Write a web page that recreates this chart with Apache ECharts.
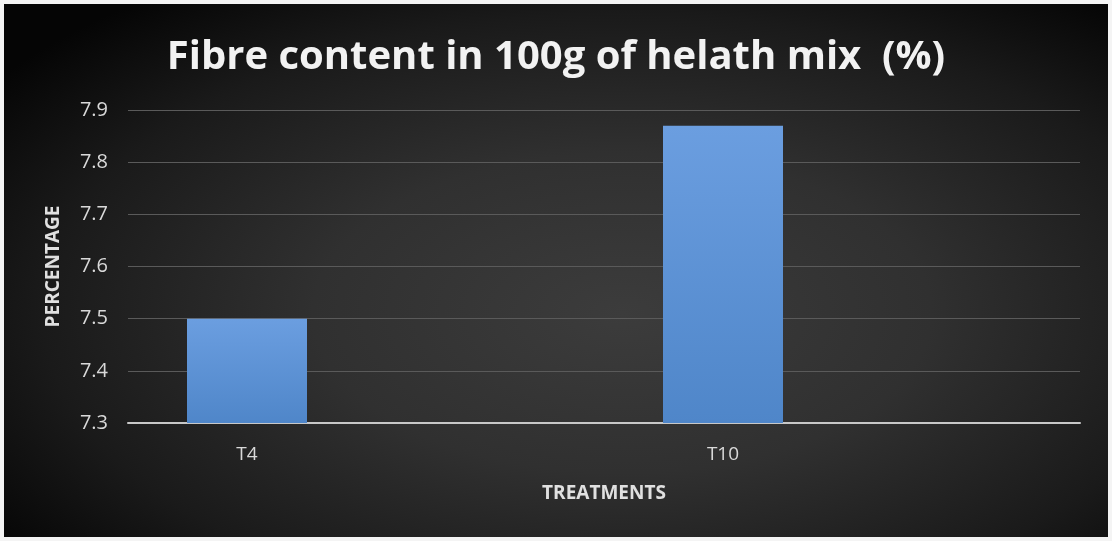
<!DOCTYPE html>
<html>
<head>
<meta charset="utf-8">
<script src="https://cdn.jsdelivr.net/npm/echarts@6/dist/echarts.min.js"></script>
<style>
  html, body { margin: 0; padding: 0; background: #f4f4f4; }
  #frame {
    position: absolute; left: 4px; top: 4px; width: 1104px; height: 533px;
    background: radial-gradient(ellipse 70% 75% at 56% 58%, #3c3c3c 0%, #303030 40%, #1a1a1a 75%, #050505 100%);
  }
  #chart { position: absolute; left: 0; top: 0; width: 1112px; height: 541px; }
</style>
</head>
<body>
<div id="frame"></div>
<div id="chart"></div>
<script>
// data
const categories = ['T4', '', 'T10', '']
const fibreValues = [7.5, null, 7.87, null]
const yTicks = { min: 7.3, max: 7.9, interval: 0.1 }

const chart = echarts.init(document.getElementById('chart'))
const option = {
  backgroundColor: 'transparent',
  title: {
    text: 'Fibre content in 100g of helath mix  (%)',
    left: 'center',
    top: 33,
    textStyle: {
      color: '#f2f2f2',
      fontFamily: 'Open Sans',
      fontWeight: 'bold',
      fontSize: 40
    }
  },
  grid: { left: 128, right: 32, top: 110, bottom: 118 },
  xAxis: {
    type: 'category',
    data: categories,
    name: 'TREATMENTS',
    nameLocation: 'middle',
    nameGap: 61,
    nameTextStyle: { color: '#e0e0e0', fontFamily: 'Open Sans', fontWeight: 'bold', fontSize: 19 },
    axisLine: { lineStyle: { color: '#c8c8c8', width: 2 } },
    axisTick: { show: false },
    axisLabel: { color: '#d9d9d9', fontFamily: 'Open Sans', fontSize: 19, margin: 22 }
  },
  yAxis: {
    type: 'value',
    min: yTicks.min,
    max: yTicks.max,
    interval: yTicks.interval,
    name: 'PERCENTAGE',
    nameLocation: 'middle',
    nameGap: 65,
    nameTextStyle: { color: '#e0e0e0', fontFamily: 'Open Sans', fontWeight: 'bold', fontSize: 19 },
    axisLine: { show: false },
    axisTick: { show: false },
    axisLabel: {
      color: '#d9d9d9', fontFamily: 'Open Sans', fontSize: 20, margin: 20,
      formatter: v => v.toFixed(1)
    },
    splitLine: { lineStyle: { color: '#5a5a5a', width: 1 } }
  },
  series: [{
    type: 'bar',
    data: fibreValues,
    barWidth: 120,
    itemStyle: {
      color: new echarts.graphic.LinearGradient(0, 0, 0, 1, [
        { offset: 0, color: '#6b9ee0' },
        { offset: 1, color: '#4f86c9' }
      ])
    }
  }]
}
chart.setOption(option)
</script>
</body>
</html>
